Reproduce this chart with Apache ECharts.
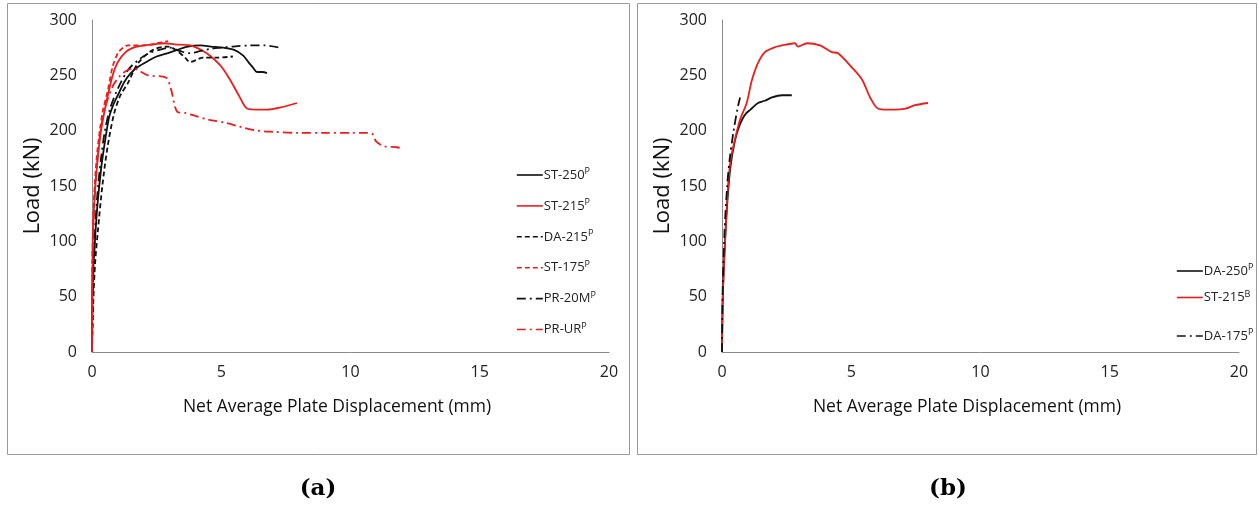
<!DOCTYPE html>
<html><head><meta charset="utf-8">
<script src="https://cdn.jsdelivr.net/npm/echarts@6/dist/echarts.min.js"></script>
<style>html,body{margin:0;padding:0;background:#fff}#c{width:1259px;height:507px}</style>
</head><body><div id="c"></div>
<script>
// ---- Data (a) ----
const st250_x = [0,0.02,0.1,0.2,0.35,0.5,0.66,0.8,1.0,1.25,1.5,1.8,2.17,2.5,2.94,3.3,3.71,4.2,4.6,5.07,5.5,5.84,6.05,6.23,6.38,6.6,6.77];
const st250_y = [0,60,95,130,165,190,212,222,232,244,252,258,263,267,270,273,276,277,276,275,273,268,262,257,253,253,252];
const st215_x = [0,0.03,0.1,0.2,0.35,0.55,0.8,1.0,1.3,1.6,2.0,2.4,2.8,3.2,3.8,4.3,4.6,5.0,5.34,5.7,6.0,6.4,6.77,7.3,7.93];
const st215_y = [0,100,140,170,200,225,250,262,271,275,277,278,279,278,277,272,267,258,246,231,220,219,219,221,225];
const da215_x = [0,0.05,0.12,0.23,0.4,0.6,0.85,1.1,1.39,1.78,2.36,2.94,3.3,3.6,3.8,4.3,4.84,5.45];
const da215_y = [0,45,80,110,150,185,215,232,243,261,273,276,272,266,262,266,266,267];
const st175_x = [0,0.02,0.08,0.18,0.3,0.43,0.62,0.8,1.0,1.2,1.39,2.05,2.5,2.94];
const st175_y = [0,90,140,175,200,219,237,258,270,275,277,277,279,281];
const pr20m_x = [0,0.03,0.1,0.2,0.35,0.5,0.7,1.0,1.4,1.8,2.2,2.6,3.0,3.4,3.8,4.2,4.6,5.0,5.45,6.1,6.7,7.27];
const pr20m_y = [0,50,100,140,175,200,220,238,255,264,270,273,275,272,270,272,274,275,276,277,277,275];
const prur_x = [0,0.02,0.08,0.18,0.3,0.5,0.8,1.1,1.4,1.6,2.17,2.86,3.05,3.3,3.6,3.9,4.5,5.2,5.8,6.4,7.0,8.0,9.0,10.0,10.6,10.85,11.0,11.3,11.8,11.95];
const prur_y = [0,80,130,165,195,220,240,250,255,256,250,248,238,217,216,214,210,207,203,200,199,198,198,198,198,197,190,186,185,184];
// ---- Data (b) ----
const da250_x = [0,0.03,0.12,0.22,0.33,0.5,0.65,0.8,0.95,1.1,1.39,1.65,1.93,2.32,2.7];
const da250_y = [0,50,101,140,168,191,203,211,216,219,225,227,230,232,232];
const st215b_x = [0,0.03,0.12,0.22,0.33,0.5,0.7,0.955,1.15,1.39,1.66,2.0,2.32,2.82,2.94,3.29,3.79,4.25,4.49,5.03,5.42,5.73,6.03,6.4,6.69,7.1,7.47,7.97];
const st215b_y = [0,50,101,145,173,192,210,225,245,261,271,275,277,279,276,279,277,271,270,257,246,230,220,219,219,220,223,225];
const da175_x = [0,0.03,0.1,0.2,0.3,0.45,0.6,0.7];
const da175_y = [0,60,110,150,175,200,220,230];
// ---- Axis ----
const xTicks = [0,5,10,15,20];
const yTicks = [0,50,100,150,200,250,300];
const xTitle = 'Net Average Plate Displacement (mm)';
const yTitle = 'Load (kN)';

const zip = (a,b) => a.map((v,i)=>[v,b[i]]);
const RED = '#ee1c1c', BLK = '#111';
const DASH = [5,3], DASHDOT = [9,4,2,4];
const FONT = 'Open Sans';

function mk(name, x, y, color, type, xi, yi){
  return {name:name, type:'line', xAxisIndex:xi, yAxisIndex:yi, symbol:'none', smooth:0.3,
    data: zip(x,y), lineStyle:{color:color, width:1.8, type:type}, itemStyle:{color:color}};
}
const series = [
  mk('ST-250|P', st250_x, st250_y, BLK, 'solid', 0, 0),
  mk('ST-215|P', st215_x, st215_y, RED, 'solid', 0, 0),
  mk('DA-215|P', da215_x, da215_y, BLK, DASH, 0, 0),
  mk('ST-175|P', st175_x, st175_y, RED, DASH, 0, 0),
  mk('PR-20M|P', pr20m_x, pr20m_y, BLK, DASHDOT, 0, 0),
  mk('PR-UR|P', prur_x, prur_y, RED, DASHDOT, 0, 0),
  mk('DA-250|P', da250_x, da250_y, BLK, 'solid', 1, 1),
  mk('ST-215|B', st215b_x, st215b_y, RED, 'solid', 1, 1),
  mk('DA-175|P', da175_x, da175_y, BLK, DASHDOT, 1, 1)
];
function xAx(gi){ return {type:'value', gridIndex:gi, min:xTicks[0], max:xTicks[xTicks.length-1], interval:5,
  axisLine:{show:true, lineStyle:{color:'#8a8a8a', width:1}}, axisTick:{show:false}, splitLine:{show:false},
  axisLabel:{fontFamily:FONT, fontSize:16, color:'#222', margin:12}}; }
function yAx(gi){ return {type:'value', gridIndex:gi, min:yTicks[0], max:yTicks[yTicks.length-1], interval:50,
  axisLine:{show:true, lineStyle:{color:'#8a8a8a', width:1}}, axisTick:{show:false}, splitLine:{show:false},
  axisLabel:{fontFamily:FONT, fontSize:16, color:'#222', margin:15}}; }
const legendRich = {n:{fontFamily:FONT, fontSize:13, color:'#222'}, s:{fontFamily:FONT, fontSize:9, color:'#222', verticalAlign:'top', padding:[0,0,7,0]}};
const fmt = n => { const p = n.split('|'); return '{n|'+p[0]+'}{s|'+p[1]+'}'; };
function leg(names, left, top, gap){ return {orient:'vertical', left:left, top:top, itemWidth:26, itemHeight:10, itemGap:gap,
  itemStyle:{opacity:0}, lineStyle:{width:1.6},
  data:names, formatter:fmt, textStyle:{rich:legendRich, padding:[0,0,0,-4]}, selectedMode:false}; }

const chart = echarts.init(document.getElementById('c'), null, {renderer:'canvas'});
chart.setOption({
  backgroundColor:'#fff', animation:false,
  grid:[{left:92, right:650, top:20, bottom:155}, {left:722, right:20, top:20, bottom:155}],
  xAxis:[xAx(0), xAx(1)], yAxis:[yAx(0), yAx(1)],
  legend:[
    leg(['ST-250|P','ST-215|P','DA-215|P','ST-175|P','PR-20M|P','PR-UR|P'], 511, 162, 16.4),
    leg(['DA-250|P','ST-215|B'], 1171, 258, 12),
    leg(['DA-175|P'], 1171, 323, 10)
  ],
  series: series,
  graphic:[
    {type:'rect', shape:{x:7.5, y:3.5, width:622, height:451}, style:{fill:'none', stroke:'#9a9a9a', lineWidth:1}, z:-1},
    {type:'rect', shape:{x:637.5, y:3.5, width:619, height:451}, style:{fill:'none', stroke:'#9a9a9a', lineWidth:1}, z:-1},
    {type:'text', x:33, y:186, rotation:Math.PI/2, style:{text:yTitle, fontFamily:FONT, fontSize:22, fill:'#111', textAlign:'center', textVerticalAlign:'middle'}},
    {type:'text', x:663, y:186, rotation:Math.PI/2, style:{text:yTitle, fontFamily:FONT, fontSize:22, fill:'#111', textAlign:'center', textVerticalAlign:'middle'}},
    {type:'text', x:337, y:407, style:{text:xTitle, fontFamily:FONT, fontSize:17.5, fill:'#111', textAlign:'center', textVerticalAlign:'middle'}},
    {type:'text', x:967, y:407, style:{text:xTitle, fontFamily:FONT, fontSize:17.5, fill:'#111', textAlign:'center', textVerticalAlign:'middle'}},
    {type:'text', x:318, y:489, style:{text:'(a)', fontFamily:'DejaVu Serif', fontWeight:'bold', fontSize:23, fill:'#000', textAlign:'center', textVerticalAlign:'middle'}},
    {type:'text', x:948, y:489, style:{text:'(b)', fontFamily:'DejaVu Serif', fontWeight:'bold', fontSize:23, fill:'#000', textAlign:'center', textVerticalAlign:'middle'}}
  ]
});
</script></body></html>
